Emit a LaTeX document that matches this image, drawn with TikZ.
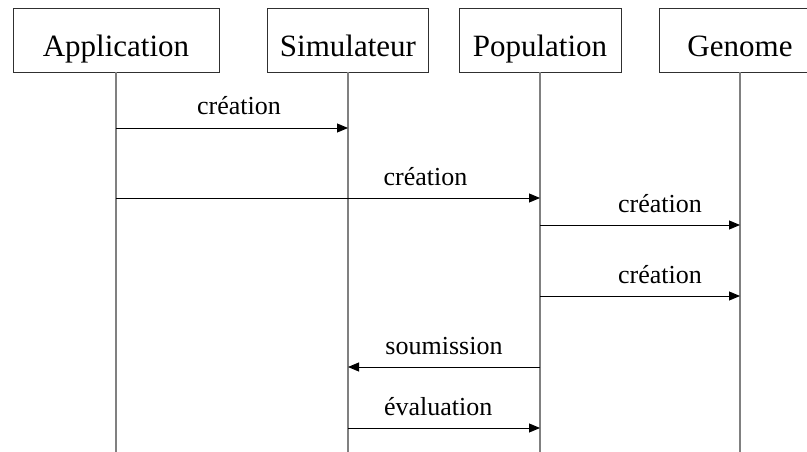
\documentclass[tikz,border=0pt]{standalone}
\usepackage{fontspec}
\setmainfont{Liberation Serif}
\usetikzlibrary{arrows.meta}
\definecolor{lifeline}{HTML}{808080}
\definecolor{frame}{HTML}{303030}
\tikzset{>={Triangle[length=11pt,width=9pt]},
obj/.style={draw=frame,line width=.9pt,minimum width=161pt,inner sep=0pt,text height=49pt,text depth=15pt,font=\fontsize{31}{31}\selectfont},
life/.style={draw=lifeline,line width=1.4pt},
msg/.style={->,line width=.9pt},
lbl/.style={anchor=base,yshift=13pt,inner sep=0pt,font=\fontsize{26}{26}\selectfont}}

\begin{document}
\begin{tikzpicture}[x=1pt,y=-1pt]
\clip (0,0) rectangle (807,452);
% objets
\node[obj,minimum width=206pt] (app) at (116,40) {Application};
\node[obj] (sim) at (348,40) {Simulateur};
\node[obj,minimum width=162pt] (pop) at (540,40) {Population};
\node[obj] (gen) at (740,40) {Genome};
% lignes de vie
\coordinate (bot) at (0,452);
\foreach \o in {app,sim,pop,gen}{\draw[life] (\o.south) -- (\o.south |- bot);}
% messages
\foreach \y [count=\i] in {128,198,225,296,367,428}{\coordinate (r\i) at (0,\y);}
\draw[msg] (app |- r1) -- node[lbl,pos=.53] (m1) {création} (sim |- r1);
\draw[msg] (app |- r2) -- node[lbl,pos=.73] (m2) {création} (pop |- r2);
\draw[msg] (pop |- r3) -- node[lbl,pos=.6] (m3) {création} (gen |- r3);
\draw[msg] (pop |- r4) -- node[lbl,pos=.6] (m4) {création} (gen |- r4);
\draw[msg] (pop |- r5) -- node[lbl,pos=.5] (m5) {soumission} (sim |- r5);
\draw[msg] (sim |- r6) -- node[lbl,pos=.47] (m6) {évaluation} (pop |- r6);
\end{tikzpicture}
\end{document}
